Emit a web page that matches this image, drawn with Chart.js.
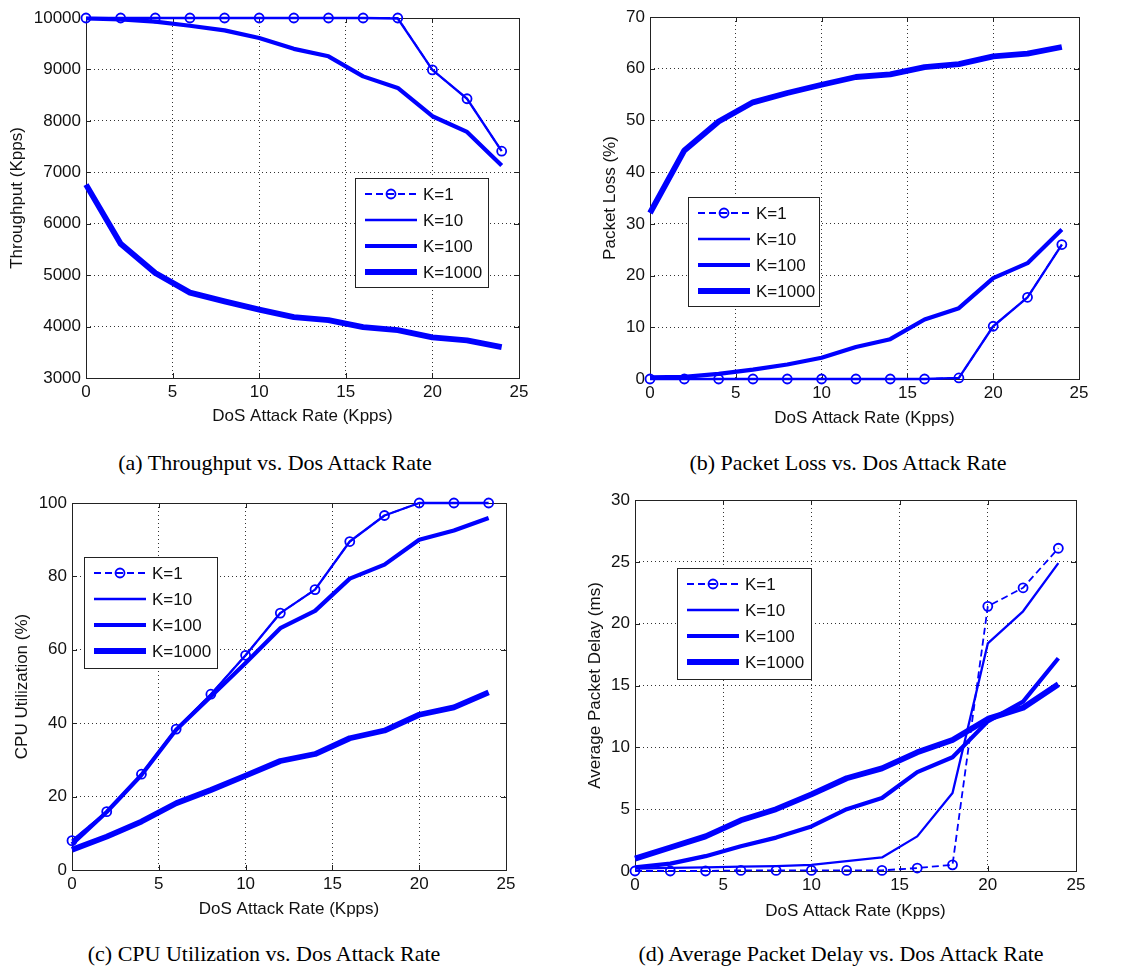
<!DOCTYPE html>
<html><head><meta charset="utf-8">
<script src="https://cdn.jsdelivr.net/npm/chart.js@4.4.0/dist/chart.umd.min.js"></script>
<style>
body{margin:0;background:#fff;width:1137px;height:969px;position:relative;overflow:hidden}
.wrap{position:absolute}
canvas{display:block}
.cap{position:absolute;font-family:"Liberation Serif","Times New Roman",serif;font-size:22px;line-height:26px;color:#000;white-space:nowrap;transform:translateX(-50%)}
</style></head><body>
<div class="wrap" style="left:0;top:0"><canvas id="ca" width="568" height="440"></canvas></div>
<div class="wrap" style="left:568px;top:0"><canvas id="cb" width="569" height="440"></canvas></div>
<div class="wrap" style="left:0;top:480px"><canvas id="cc" width="568" height="460"></canvas></div>
<div class="wrap" style="left:568px;top:480px"><canvas id="cd" width="569" height="460"></canvas></div>
<div class="cap" style="left:275px;top:450px">(a) Throughput vs. Dos Attack Rate</div>
<div class="cap" style="left:848px;top:450px">(b) Packet Loss vs. Dos Attack Rate</div>
<div class="cap" style="left:264px;top:941px">(c) CPU Utilization vs. Dos Attack Rate</div>
<div class="cap" style="left:841px;top:941px">(d) Average Packet Delay vs. Dos Attack Rate</div>
<script>
// ---- data ----
const attackRate = [0,2,4,6,8,10,12,14,16,18,20,22,24];
const seriesLabels = ['K=1','K=10','K=100','K=1000'];
const xTitle = 'DoS Attack Rate (Kpps)';

const throughputK1    = [10000,10000,10000,10000,10000,10000,10000,10000,10000,10000,8990,8430,7410];
const throughputK10   = [10000,10000,10000,10000,10000,10000,10000,10000,10000,9990,8990,8430,7410];
const throughputK100  = [9990,9975,9930,9850,9760,9610,9400,9255,8865,8640,8090,7785,7130];
const throughputK1000 = [6760,5610,5040,4660,4490,4330,4185,4125,3990,3930,3790,3730,3600];

const lossK1    = [0,0,0,0,0,0,0,0,0,0.2,10.2,15.8,26.0];
const lossK10   = [0,0,0,0,0,0,0,0,0,0.2,10.2,15.8,26.0];
const lossK100  = [0.3,0.4,1.0,1.8,2.8,4.1,6.2,7.7,11.5,13.7,19.5,22.4,28.9];
const lossK1000 = [32.1,44.2,49.8,53.5,55.3,56.9,58.4,58.9,60.3,60.9,62.4,62.9,64.2];

const cpuK1    = [8.0,15.9,26.1,38.4,47.9,58.5,70.0,76.4,89.5,96.6,100,100,100];
const cpuK10   = [8.0,15.9,26.1,38.4,47.9,58.5,70.0,76.4,89.5,96.6,100,100,100];
const cpuK100  = [7.0,15.8,25.9,38.2,47.3,56.4,65.9,70.6,79.4,83.2,90.0,92.5,95.9];
const cpuK1000 = [5.5,9.1,13.2,18.2,21.8,25.7,29.7,31.6,35.9,38.0,42.3,44.3,48.4];

const delayK1    = [0,0,0,0.05,0.05,0.05,0.05,0.05,0.24,0.5,21.4,22.9,26.1];
const delayK10   = [0.2,0.25,0.3,0.35,0.4,0.5,0.8,1.1,2.8,6.3,18.4,21.0,24.9];
const delayK100  = [0.3,0.6,1.2,2.0,2.7,3.6,5.0,5.9,8.0,9.2,12.1,13.7,17.2];
const delayK1000 = [1.0,1.9,2.8,4.1,5.0,6.2,7.5,8.3,9.6,10.6,12.3,13.2,15.1];

// ---- styling ----
const BLUE = '#0000ff';
const FONT = '"Liberation Sans", Arial, sans-serif';
const styles = [
  {borderWidth:1.8, borderDash:[7,4], pointRadius:4.5, pointBorderWidth:1.8},
  {borderWidth:2.3, borderDash:[], pointRadius:0, pointBorderWidth:0},
  {borderWidth:4.2, borderDash:[], pointRadius:0, pointBorderWidth:0},
  {borderWidth:5.8, borderDash:[], pointRadius:0, pointBorderWidth:0}
];

const framePlugin = {
  id:'frame',
  beforeDatasetsDraw(chart){
    const {ctx, chartArea:a, scales} = chart;
    ctx.save();
    ctx.strokeStyle = '#222'; ctx.lineWidth = 1; ctx.setLineDash([]);
    ctx.beginPath();
    scales.x.ticks.forEach(t=>{
      const p = Math.round(scales.x.getPixelForValue(t.value))+0.5;
      ctx.moveTo(p,a.bottom); ctx.lineTo(p,a.bottom-5);
      ctx.moveTo(p,a.top); ctx.lineTo(p,a.top+5);
    });
    scales.y.ticks.forEach(t=>{
      const p = Math.round(scales.y.getPixelForValue(t.value))+0.5;
      ctx.moveTo(a.left,p); ctx.lineTo(a.left+5,p);
      ctx.moveTo(a.right,p); ctx.lineTo(a.right-5,p);
    });
    ctx.stroke();
    ctx.strokeRect(Math.round(a.left)+0.5, Math.round(a.top)+0.5, Math.round(a.right-a.left), Math.round(a.bottom-a.top));
    ctx.restore();
  },
  afterDatasetsDraw(chart, args, opts){
    const ctx = chart.ctx;
    const {x,y,w,h} = opts;
    ctx.save();
    ctx.fillStyle='#fff'; ctx.fillRect(x,y,w,h);
    ctx.strokeStyle='#222'; ctx.lineWidth=1; ctx.strokeRect(x+0.5,y+0.5,w,h);
    chart.data.datasets.forEach((ds,i)=>{
      const cy = y+16+i*26;
      ctx.beginPath();
      ctx.setLineDash(ds.borderDash||[]);
      ctx.lineWidth = ds.borderWidth; ctx.strokeStyle = ds.borderColor;
      ctx.moveTo(x+10,cy); ctx.lineTo(x+62,cy); ctx.stroke();
      ctx.setLineDash([]);
      if(ds.pointRadius>0){
        ctx.beginPath(); ctx.arc(x+36,cy,ds.pointRadius,0,Math.PI*2);
        ctx.lineWidth = ds.pointBorderWidth; ctx.stroke();
      }
      ctx.fillStyle='#111'; ctx.font='17px '+FONT; ctx.textBaseline='middle';
      ctx.fillText(ds.label, x+68, cy+1);
    });
    ctx.restore();
  }
};

function makeChart(id, series, yTitle, yMin, yMax, yStep, lay, leg){
  const datasets = series.map((vals,i)=>({
    label: seriesLabels[i],
    data: attackRate.map((xv,j)=>({x:xv, y:vals[j]})),
    borderColor: BLUE, backgroundColor: BLUE,
    pointBackgroundColor:'rgba(0,0,0,0)', pointBorderColor: BLUE,
    borderWidth: styles[i].borderWidth, borderDash: styles[i].borderDash,
    pointRadius: styles[i].pointRadius, pointBorderWidth: styles[i].pointBorderWidth,
    pointHoverRadius: styles[i].pointRadius,
    borderJoinStyle:'round', tension:0, clip:false, fill:false
  }));
  const tickFont = {family:FONT, size:17};
  const plain = v => String(v);
  return new Chart(document.getElementById(id), {
    type:'line',
    data:{datasets},
    plugins:[framePlugin],
    options:{
      responsive:false, animation:false, events:[],
      layout:{padding:lay.pad},
      plugins:{legend:{display:false}, tooltip:{enabled:false}, frame:leg},
      scales:{
        x:{type:'linear', min:0, max:25,
           ticks:{stepSize:5, font:tickFont, color:'#111', padding:4, maxRotation:0, callback:plain},
           grid:{color:'#333', lineWidth:1, drawTicks:false},
           border:{display:false, dash:[1,3]},
           title:{display:true, text:xTitle, font:tickFont, color:'#111', padding:0},
           afterFit(s){ s.height = lay.xh; }
        },
        y:{type:'linear', min:yMin, max:yMax,
           ticks:{stepSize:yStep, font:tickFont, color:'#111', padding:5, callback:plain},
           grid:{color:'#333', lineWidth:1, drawTicks:false},
           border:{display:false, dash:[1,3]},
           title:{display:true, text:yTitle, font:tickFont, color:'#111', padding:0},
           afterFit(s){ s.width = lay.yw; }
        }
      }
    }
  });
}

makeChart('ca', [throughputK1,throughputK10,throughputK100,throughputK1000], 'Throughput (Kpps)', 3000, 10000, 1000,
  {pad:{left:7,right:49,top:18,bottom:13}, yw:79, xh:49}, {x:355,y:178,w:133,h:109});
makeChart('cb', [lossK1,lossK10,lossK100,lossK1000], 'Packet Loss (%)', 0, 70, 10,
  {pad:{left:32,right:58,top:17,bottom:11}, yw:50, xh:50}, {x:120,y:197,w:131,h:109});
makeChart('cc', [cpuK1,cpuK10,cpuK100,cpuK1000], 'CPU Utilization (%)', 0, 100, 20,
  {pad:{left:12,right:62,top:23,bottom:20}, yw:60, xh:50}, {x:84,y:77,w:133,h:111});
makeChart('cd', [delayK1,delayK10,delayK100,delayK1000], 'Average Packet Delay (ms)', 0, 30, 5,
  {pad:{left:17,right:61,top:20,bottom:18}, yw:50, xh:51}, {x:109,y:88,w:134,h:111});
</script>
</body></html>
